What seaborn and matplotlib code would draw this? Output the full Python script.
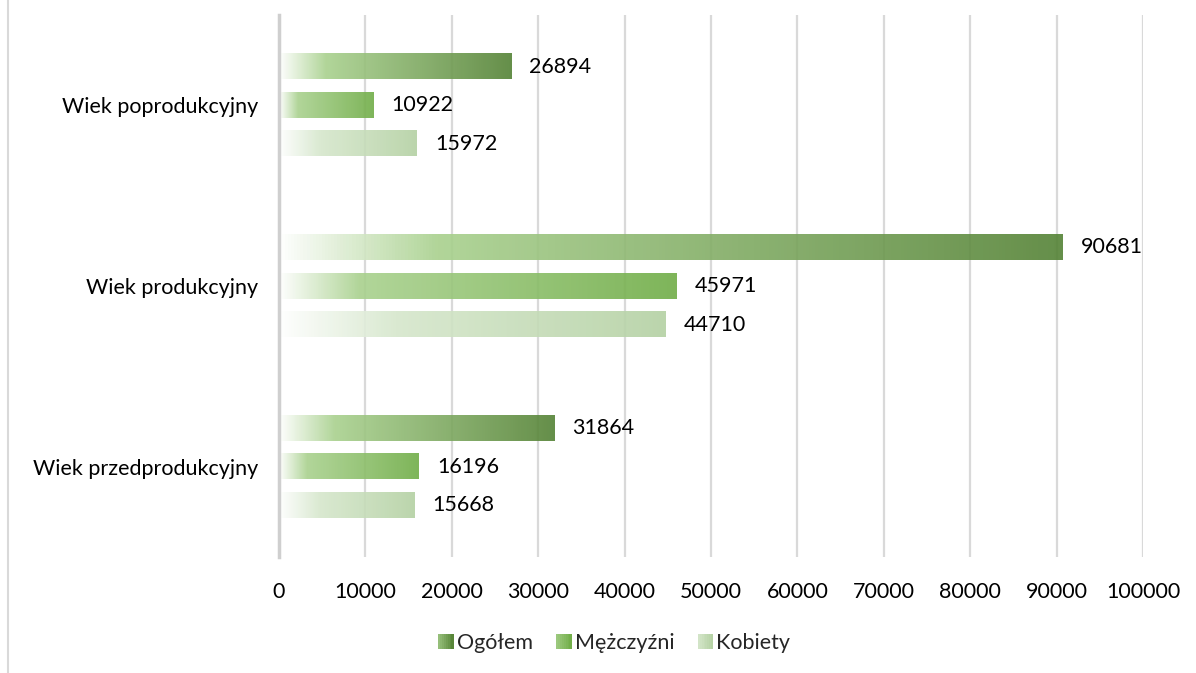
import numpy as np
import pandas as pd
import seaborn as sns
import matplotlib.pyplot as plt
from matplotlib.colors import LinearSegmentedColormap
from matplotlib.patches import Rectangle
from matplotlib.legend_handler import HandlerBase
from matplotlib.lines import Line2D

# data
categories = ['Wiek poprodukcyjny', 'Wiek produkcyjny', 'Wiek przedprodukcyjny']
series = ['Ogółem', 'Mężczyźni', 'Kobiety']
ogolem = [26894, 90681, 31864]
mezczyzni = [10922, 45971, 16196]
kobiety = [15972, 44710, 15668]

df = pd.DataFrame({
    'grupa': categories * 3,
    'seria': [s for s in series for _ in categories],
    'liczba': ogolem + mezczyzni + kobiety,
})

# gradient stops per series (white -> light -> end colour)
stops = {
    'Ogółem': [(0.0, '#ffffff'), (0.2, '#a9d18e'), (1.0, '#548235')],
    'Mężczyźni': [(0.0, '#ffffff'), (0.2, '#a9d18e'), (1.0, '#70ad47')],
    'Kobiety': [(0.0, '#ffffff'), (0.3, '#d6e7cc'), (1.0, '#b4d1a3')],
}
cmaps = {k: LinearSegmentedColormap.from_list(k, v) for k, v in stops.items()}

sns.set_style('white')
plt.rcParams['font.family'] = ['Lato', 'DejaVu Sans']

fig = plt.figure(figsize=(11.96, 6.73), dpi=100)
ax = fig.add_axes([0.2333, 0.1724, 0.7224, 0.8053])

sns.barplot(data=df, y='grupa', x='liczba', hue='seria', order=categories,
            hue_order=series, orient='h', width=0.64, gap=0.35,
            palette=['#548235', '#70ad47', '#b4d1a3'], ax=ax, legend=False)

grad = np.linspace(0, 1, 256)[None, :]
for cont, name in zip(ax.containers, series):
    for bar, val in zip(cont, cont.datavalues):
        x0, y0 = bar.get_x(), bar.get_y()
        w, h = bar.get_width(), bar.get_height()
        bar.set_facecolor('none')
        bar.set_edgecolor('none')
        ax.imshow(grad, cmap=cmaps[name], aspect='auto', alpha=0.9,
                  extent=[x0, x0 + w, y0 + h, y0], zorder=2)
        ax.annotate(f'{int(val)}', (x0 + w, y0 + h / 2), xytext=(13, 0),
                    textcoords='offset points', va='center', ha='left',
                    fontsize=15.5, color='#000000')

ax.set_xlim(0, 100000)
ax.set_ylim(2.5, -0.5)
ax.set_xticks(range(0, 100001, 10000))
ax.grid(axis='x', color='#d9d9d9', linewidth=1.6, zorder=0)
ax.grid(axis='y', visible=False)
ax.set_axisbelow(True)
for s in ['top', 'right', 'bottom']:
    ax.spines[s].set_visible(False)
ax.spines['left'].set_color('#cfcfcf')
ax.spines['left'].set_linewidth(2.5)
ax.tick_params(axis='both', length=0, labelsize=15.5, colors='#000000')
ax.tick_params(axis='y', pad=15)
ax.tick_params(axis='x', pad=18)
ax.set_xlabel('')
ax.set_ylabel('')


class GradHandler(HandlerBase):
    def __init__(self, cmap):
        super().__init__()
        self.cmap = cmap

    def create_artists(self, legend, orig, xd, yd, width, height, fontsize, trans):
        n = 8
        side = height * 1.0
        x_start = xd + width - side
        arts = []
        for i in range(n):
            c = self.cmap(0.35 + 0.65 * (i + 0.5) / n)
            r = Rectangle((x_start + side * i / n, yd), side / n + 0.3, side,
                          facecolor=c, edgecolor='none', transform=trans)
            arts.append(r)
        return arts


handles = [Rectangle((0, 0), 1, 1) for _ in series]
ax.legend(handles, series, loc='upper center', bbox_to_anchor=(0.388, -0.105),
          ncol=3, frameon=False, fontsize=15.5, handlelength=0.7,
          handletextpad=0.15, columnspacing=1.1,
          handler_map={h: GradHandler(cmaps[s]) for h, s in zip(handles, series)})

fig.add_artist(Line2D([0.0067, 0.0067], [0, 1], color='#d9d9d9', linewidth=1.5,
                      transform=fig.transFigure))

fig.savefig('out.png', dpi=100)
